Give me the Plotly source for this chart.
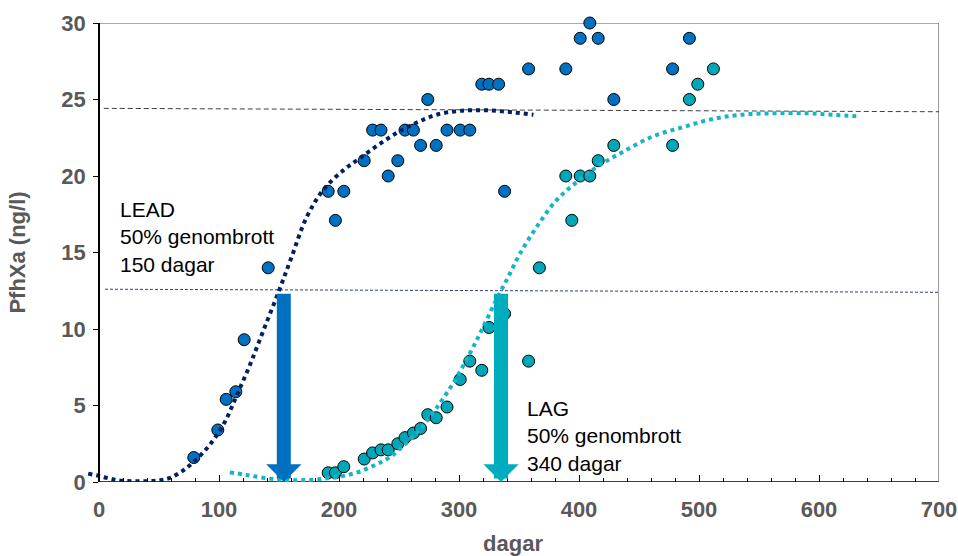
import plotly.graph_objects as go

# ---- data ----
lead_days = [79, 99, 106, 114, 121, 141, 191, 197, 204, 221, 228, 235, 241, 249, 255, 262, 268, 274,
             281, 290, 301, 309, 319, 325, 333, 338, 358, 389, 401, 409, 416, 429, 478, 492]
lead_conc = [1.6, 3.4, 5.4, 5.9, 9.3, 14.0, 19.0, 17.1, 19.0, 21.0, 23.0, 23.0, 20.0, 21.0, 23.0, 23.0,
             22.0, 25.0, 22.0, 23.0, 23.0, 23.0, 26.0, 26.0, 26.0, 19.0, 27.0, 27.0, 29.0, 30.0, 29.0,
             25.0, 27.0, 29.0]

lag_days = [191, 197, 204, 221, 228, 235, 241, 249, 255, 262, 268, 274, 281, 290, 301, 309, 319, 325,
            338, 358, 367, 389, 394, 401, 409, 416, 429, 478, 492, 499, 512]
lag_conc = [0.6, 0.6, 1.0, 1.5, 1.9, 2.1, 2.1, 2.5, 2.9, 3.2, 3.5, 4.4, 4.2, 4.9, 6.7, 7.9, 7.3, 10.1,
            11.0, 7.9, 14.0, 20.0, 17.1, 20.0, 20.0, 21.0, 22.0, 22.0, 25.0, 26.0, 27.0]

# trend curves
lead_fit_days = [-9, 0, 10, 20, 35, 50, 60, 70, 80, 92, 104, 115, 126, 137, 150, 160, 173, 187,
                 204, 218, 234, 250, 265, 281, 300, 320, 340, 362]
lead_fit_conc = [0.55, 0.4, 0.2, 0.08, 0.05, 0.1, 0.3, 0.75, 1.4, 2.4, 3.8, 5.7, 7.7, 9.9, 12.5,
                 14.6, 17.3, 19.1, 20.4, 21.2, 22.1, 22.9, 23.5, 24.0, 24.25, 24.3, 24.2, 24.0]

lag_fit_days = [109, 123, 140, 156, 173, 190, 204, 217, 231, 242, 254, 268, 281, 295, 309, 320, 331,
                341, 351, 365, 381, 398, 417, 437, 462, 487, 510, 534, 562, 590, 612, 634]
lag_fit_conc = [0.63, 0.46, 0.24, 0.13, 0.13, 0.24, 0.4, 0.67, 1.15, 1.6, 2.4, 3.5, 4.8, 6.45, 8.4,
                10.1, 11.9, 13.4, 14.95, 16.7, 18.4, 19.6, 20.7, 21.6, 22.6, 23.2, 23.7, 24.0, 24.1,
                24.1, 24.0, 23.9]

plateau_days = [4, 700]
plateau_conc = [24.42, 24.2]
half_days = [5, 700]
half_conc = [12.6, 12.4]

breakthrough_days = [154, 335]
breakthrough_top = [12.4, 12.4]
breakthrough_colors = ["#0070C0", "#00ADBF"]

label_texts = ["LEAD<br>50% genombrott<br>150 dagar", "LAG<br>50% genombrott<br>340 dagar"]
label_days = [16, 355]
label_conc = [16.0, 3.0]

x_ticks = [0, 100, 200, 300, 400, 500, 600, 700]
y_ticks = [0, 5, 10, 15, 20, 25, 30]

X_RANGE = [-10, 700]
Y_RANGE = [0, 30]

axis_font = dict(family="Liberation Sans, Arial", size=22, color="#595959", weight="bold")

fig = go.Figure()

fig.add_trace(go.Scatter(x=lead_days, y=lead_conc, mode="markers", cliponaxis=False,
                         marker=dict(size=12, color="#0070C0", line=dict(color="black", width=1))))
fig.add_trace(go.Scatter(x=lag_days, y=lag_conc, mode="markers", cliponaxis=False,
                         marker=dict(size=12, color="#00A7B8", line=dict(color="black", width=1))))

fig.add_trace(go.Scatter(x=plateau_days, y=plateau_conc, mode="lines",
                         line=dict(color="#404040", width=1, dash="5px,3px")))
fig.add_trace(go.Scatter(x=half_days, y=half_conc, mode="lines",
                         line=dict(color="#2F3F80", width=1, dash="3px,2px")))

fig.add_trace(go.Scatter(x=lead_fit_days, y=lead_fit_conc, mode="lines",
                         line=dict(color="#002060", width=4, dash="4px,4px", shape="spline")))
fig.add_trace(go.Scatter(x=lag_fit_days, y=lag_fit_conc, mode="lines",
                         line=dict(color="#17B4C8", width=4, dash="4px,4px", shape="spline")))

annotations = []
for d, top, c in zip(breakthrough_days, breakthrough_top, breakthrough_colors):
    annotations.append(dict(x=d, y=0, ax=d, ay=top, xref="x", yref="y", axref="x", ayref="y",
                            text="", showarrow=True, arrowhead=1, arrowsize=0.42, arrowwidth=14,
                            arrowcolor=c))
for t, d, v in zip(label_texts, label_days, label_conc):
    annotations.append(dict(x=d, y=v, xref="x", yref="y", text=t, showarrow=False, xanchor="left",
                            yanchor="middle", align="left",
                            font=dict(family="Liberation Sans, Arial", size=21, color="black")))

shapes = [
    dict(type="line", xref="x", yref="y", x0=0, x1=700, y0=0, y1=0, line=dict(color="black", width=1.5), layer="below"),
    dict(type="line", xref="x", yref="y", x0=0, x1=700, y0=30, y1=30, line=dict(color="#595959", width=1.2), layer="below"),
    dict(type="line", xref="x", yref="y", x0=700, x1=700, y0=0, y1=30, line=dict(color="#595959", width=1.2), layer="below"),
]

fig.update_layout(
    width=958, height=556,
    margin=dict(l=87, r=19, t=23, b=74),
    plot_bgcolor="white", paper_bgcolor="white",
    showlegend=False,
    annotations=annotations, shapes=shapes,
    xaxis=dict(range=X_RANGE, tickvals=x_ticks, ticks="inside", ticklen=7, tickcolor="black",
               tickwidth=1, showline=False, showgrid=False, zeroline=False, automargin=False,
               tickfont=axis_font, ticklabelstandoff=12,
               minor=dict(dtick=20, tick0=0, ticks="inside", ticklen=4, tickcolor="black", showgrid=False),
               title=dict(text="dagar", font=axis_font, standoff=21)),
    yaxis=dict(range=Y_RANGE, tickvals=y_ticks, ticks="outside", ticklen=5, tickcolor="black",
               anchor="free", position=12 / 852, showline=True, linecolor="black", linewidth=1.5,
               showgrid=False, zeroline=False, tickfont=axis_font, automargin=False,
               ticklabelstandoff=3,
               title=dict(text="PfhXa (ng/l)", font=axis_font, standoff=29)),
)

fig.write_html("out.html")
